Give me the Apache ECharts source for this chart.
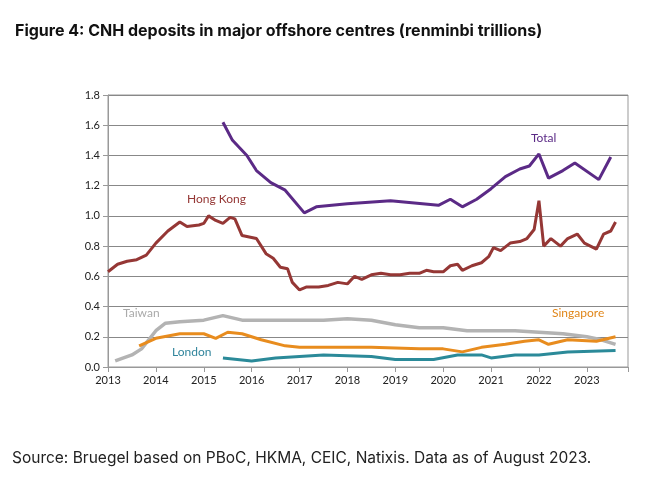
<!DOCTYPE html>
<html><head><meta charset="utf-8">
<script src="https://cdn.jsdelivr.net/npm/echarts@6/dist/echarts.min.js"></script>
<style>html,body{margin:0;background:#fff}#c{width:662px;height:485px}</style>
</head><body><div id="c"></div>
<script>
// [year, renminbi trillions]
const hongKong = [[2013.0,0.63],[2013.2,0.68],[2013.4,0.70],[2013.6,0.71],[2013.8,0.74],[2014.0,0.82],[2014.25,0.90],[2014.5,0.96],[2014.65,0.93],[2014.9,0.94],[2015.0,0.95],[2015.1,1.00],[2015.25,0.97],[2015.4,0.95],[2015.55,0.99],[2015.65,0.98],[2015.8,0.87],[2015.95,0.86],[2016.1,0.85],[2016.3,0.75],[2016.45,0.72],[2016.6,0.66],[2016.75,0.65],[2016.85,0.56],[2017.0,0.51],[2017.15,0.53],[2017.4,0.53],[2017.6,0.54],[2017.8,0.56],[2018.0,0.55],[2018.15,0.60],[2018.3,0.58],[2018.5,0.61],[2018.7,0.62],[2018.9,0.61],[2019.1,0.61],[2019.3,0.62],[2019.5,0.62],[2019.65,0.64],[2019.8,0.63],[2020.0,0.63],[2020.15,0.67],[2020.3,0.68],[2020.4,0.64],[2020.6,0.67],[2020.8,0.69],[2020.95,0.73],[2021.05,0.79],[2021.2,0.77],[2021.4,0.82],[2021.6,0.83],[2021.75,0.85],[2021.9,0.91],[2022.0,1.10],[2022.1,0.80],[2022.25,0.85],[2022.45,0.80],[2022.6,0.85],[2022.8,0.88],[2022.95,0.82],[2023.2,0.78],[2023.35,0.88],[2023.5,0.90],[2023.6,0.96]];
const total = [[2015.4,1.62],[2015.6,1.50],[2015.9,1.40],[2016.1,1.30],[2016.4,1.22],[2016.7,1.17],[2017.1,1.02],[2017.35,1.06],[2018.0,1.08],[2018.9,1.10],[2019.9,1.07],[2020.15,1.11],[2020.4,1.06],[2020.7,1.11],[2021.0,1.18],[2021.3,1.26],[2021.6,1.31],[2021.8,1.33],[2022.0,1.41],[2022.2,1.25],[2022.5,1.30],[2022.75,1.35],[2023.25,1.24],[2023.5,1.39]];
const taiwan = [[2013.15,0.04],[2013.5,0.08],[2013.7,0.12],[2014.0,0.24],[2014.2,0.29],[2014.5,0.30],[2015.0,0.31],[2015.4,0.34],[2015.8,0.31],[2016.5,0.31],[2017.5,0.31],[2018.0,0.32],[2018.5,0.31],[2019.0,0.28],[2019.5,0.26],[2020.0,0.26],[2020.5,0.24],[2021.0,0.24],[2021.5,0.24],[2022.0,0.23],[2022.5,0.22],[2023.0,0.20],[2023.3,0.18],[2023.6,0.15]];
const singapore = [[2013.65,0.14],[2014.0,0.19],[2014.5,0.22],[2015.0,0.22],[2015.25,0.19],[2015.5,0.23],[2015.8,0.22],[2016.2,0.18],[2016.7,0.14],[2017.0,0.13],[2017.5,0.13],[2018.5,0.13],[2019.5,0.12],[2020.0,0.12],[2020.4,0.10],[2020.8,0.13],[2021.3,0.15],[2021.7,0.17],[2022.0,0.18],[2022.2,0.15],[2022.6,0.18],[2023.2,0.17],[2023.6,0.20]];
const london = [[2015.4,0.06],[2016.0,0.04],[2016.5,0.06],[2017.0,0.07],[2017.5,0.08],[2018.5,0.07],[2019.0,0.05],[2019.8,0.05],[2020.3,0.08],[2020.8,0.08],[2021.0,0.06],[2021.5,0.08],[2022.0,0.08],[2022.6,0.10],[2023.6,0.11]];

const chart = echarts.init(document.getElementById('c'));
const line = (name, data, color, w) => ({ name, type: 'line', data, showSymbol: false, lineStyle: { color, width: w || 3 }, z: name === 'Taiwan' ? 1 : 2 });
const lbl = (text, x, y, color) => ({ type: 'text', left: x, top: y, style: { text, fill: color, font: '12px Lato' } });
chart.setOption({
  animation: false,
  grid: { left: 108, right: 34, top: 95, bottom: 118, show: true, borderColor: '#999' },
  title: { text: 'Figure 4: CNH deposits in major offshore centres (renminbi trillions)', left: 10, top: 18,
    textStyle: { fontFamily: 'Inter', fontSize: 16, fontWeight: 'bold', color: '#111' } },
  graphic: [
    { type: 'text', left: 12, top: 450, style: { text: 'Source: Bruegel based on PBoC, HKMA, CEIC, Natixis. Data as of August 2023.', fill: '#222', font: '15.5px Inter' } },
    lbl('Total', 531, 132, '#5b2a86'),
    lbl('Hong Kong', 187, 193, '#953735'),
    lbl('Taiwan', 123, 307, '#aaa'),
    lbl('Singapore', 552, 307, '#e0861a'),
    lbl('London', 172, 346, '#31859c')
  ],
  xAxis: { type: 'value', min: 2013, max: 2023.86, interval: 1,
    axisLabel: { color: '#222', fontSize: 11, fontFamily: 'Lato', formatter: v => Number.isInteger(v) ? v : '' },
    axisLine: { lineStyle: { color: '#999' } }, axisTick: { show: true, lineStyle: { color: '#999' } }, splitLine: { show: false } },
  yAxis: { type: 'value', min: 0, max: 1.8, interval: 0.2,
    axisLabel: { color: '#222', fontSize: 11, fontFamily: 'Lato', formatter: v => v.toFixed(1) },
    axisLine: { show: true, lineStyle: { color: '#999' } }, axisTick: { show: true, lineStyle: { color: '#999' } },
    splitLine: { lineStyle: { color: '#888' } } },
  series: [
    line('Taiwan', taiwan, '#b3b3b3', 3.5),
    line('Singapore', singapore, '#e88c1e'),
    line('London', london, '#2b8a99'),
    line('Hong Kong', hongKong, '#953735'),
    line('Total', total, '#5b2a86')
  ]
});
</script></body></html>
